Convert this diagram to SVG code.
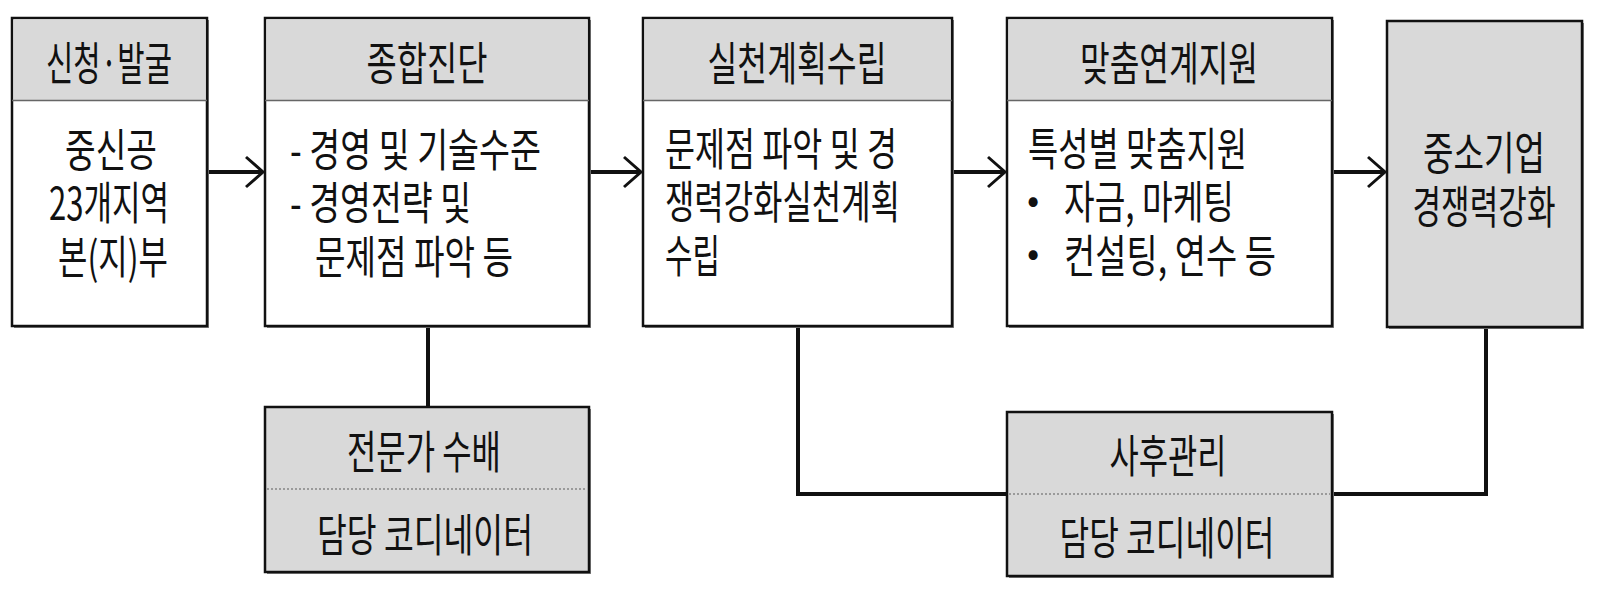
<svg xmlns="http://www.w3.org/2000/svg" width="1597" height="593" viewBox="0 0 1597 593">
<defs>
<style>
.sh{fill:#808080;stroke:none}
.box{fill:#ffffff;stroke:#111;stroke-width:2.5}
.gbox{fill:#d9d9d9;stroke:#111;stroke-width:2.5}
.hdr{fill:#d9d9d9;stroke:none}
.sep{stroke:#666;stroke-width:1.5}
.dot{stroke:#9a9a9a;stroke-width:2;stroke-dasharray:2,2}
.t{font-family:"Noto Sans CJK KR","Noto Sans",sans-serif;font-size:45px;fill:#111}
.h{font-family:"Noto Sans CJK KR","Noto Sans",sans-serif;font-size:46px;fill:#111}
.b{font-family:"Noto Sans CJK KR","Noto Sans",sans-serif;font-size:36px;fill:#111;text-anchor:middle}
.c{text-anchor:middle}
.ln{fill:none;stroke:#111;stroke-width:4}
</style>
<marker id="arr" markerWidth="22" markerHeight="34" refX="19" refY="17" orient="auto" markerUnits="userSpaceOnUse">
<path d="M2,2 L19,17 L2,32" fill="none" stroke="#111" stroke-width="3"/>
</marker>
</defs>
<rect width="1597" height="593" fill="#ffffff"/>

<g id="connectors">
<line class="ln" x1="207" y1="172" x2="263" y2="172" marker-end="url(#arr)"/>
<line class="ln" x1="589" y1="172" x2="641" y2="172" marker-end="url(#arr)"/>
<line class="ln" x1="952" y1="172" x2="1005" y2="172" marker-end="url(#arr)"/>
<line class="ln" x1="1332" y1="172" x2="1385" y2="172" marker-end="url(#arr)" stroke="#333"/>
<line class="ln" x1="428" y1="326" x2="428" y2="407"/>
<polyline class="ln" points="798,326 798,494 1007,494"/>
<polyline class="ln" points="1486,327 1486,494 1332,494"/>
</g>

<g id="node-apply">
<rect class="sh" x="14" y="20" width="195" height="308"/>
<rect class="box" x="12" y="18" width="195" height="308"/>
<rect class="hdr" x="13.5" y="19.5" width="192" height="81"/>
<line class="sep" x1="12" y1="100.5" x2="207" y2="100.5"/>
<text class="h c" x="109" y="80" textLength="126" lengthAdjust="spacingAndGlyphs">신청·발굴</text>
<text class="t c" x="111" y="167" textLength="92" lengthAdjust="spacingAndGlyphs">중신공</text>
<text class="t c" x="109" y="220" textLength="120" lengthAdjust="spacingAndGlyphs">23개지역</text>
<text class="t c" x="113" y="274" textLength="110" lengthAdjust="spacingAndGlyphs">본(지)부</text>
</g>

<g id="node-diagnosis">
<rect class="sh" x="267" y="20" width="324" height="308"/>
<rect class="box" x="265" y="18" width="324" height="308"/>
<rect class="hdr" x="266.5" y="19.5" width="321" height="81"/>
<line class="sep" x1="265" y1="100.5" x2="589" y2="100.5"/>
<text class="h c" x="427" y="80" textLength="121" lengthAdjust="spacingAndGlyphs">종합진단</text>
<text class="t" x="290" y="167" textLength="251" lengthAdjust="spacingAndGlyphs">- 경영 및 기술수준</text>
<text class="t" x="290" y="220" textLength="181" lengthAdjust="spacingAndGlyphs">- 경영전략 및</text>
<text class="t" x="315" y="274" textLength="198" lengthAdjust="spacingAndGlyphs">문제점 파악 등</text>
</g>

<g id="node-plan">
<rect class="sh" x="645" y="20" width="309" height="308"/>
<rect class="box" x="643" y="18" width="309" height="308"/>
<rect class="hdr" x="644.5" y="19.5" width="306" height="81"/>
<line class="sep" x1="643" y1="100.5" x2="952" y2="100.5"/>
<text class="h c" x="797" y="80" textLength="179" lengthAdjust="spacingAndGlyphs">실천계획수립</text>
<text class="t" x="665" y="166" textLength="232" lengthAdjust="spacingAndGlyphs">문제점 파악 및 경</text>
<text class="t" x="665" y="219" textLength="235" lengthAdjust="spacingAndGlyphs">쟁력강화실천계획</text>
<text class="t" x="665" y="273" textLength="55" lengthAdjust="spacingAndGlyphs">수립</text>
</g>

<g id="node-support">
<rect class="sh" x="1009" y="20" width="325" height="308"/>
<rect class="box" x="1007" y="18" width="325" height="308"/>
<rect class="hdr" x="1008.5" y="19.5" width="322" height="81"/>
<line class="sep" x1="1007" y1="100.5" x2="1332" y2="100.5"/>
<text class="h c" x="1169" y="80" textLength="178" lengthAdjust="spacingAndGlyphs">맞춤연계지원</text>
<text class="t" x="1028" y="166" textLength="219" lengthAdjust="spacingAndGlyphs">특성별 맞춤지원</text>
<text class="b" x="1033" y="213">•</text>
<text class="t" x="1064" y="219" textLength="170" lengthAdjust="spacingAndGlyphs">자금, 마케팅</text>
<text class="b" x="1033" y="266">•</text>
<text class="t" x="1064" y="273" textLength="212" lengthAdjust="spacingAndGlyphs">컨설팅, 연수 등</text>
</g>

<g id="node-result">
<rect class="sh" x="1389" y="23" width="195" height="306"/>
<rect class="gbox" x="1387" y="21" width="195" height="306"/>
<text class="t c" x="1484" y="170" textLength="122" lengthAdjust="spacingAndGlyphs">중소기업</text>
<text class="t c" x="1484" y="224" textLength="143" lengthAdjust="spacingAndGlyphs">경쟁력강화</text>
</g>

<g id="node-expert">
<rect class="sh" x="267" y="409" width="324" height="165"/>
<rect class="gbox" x="265" y="407" width="324" height="165"/>
<line class="dot" x1="267" y1="489" x2="587" y2="489"/>
<text class="t c" x="424" y="469" textLength="154" lengthAdjust="spacingAndGlyphs">전문가 수배</text>
<text class="t c" x="425" y="552" textLength="216" lengthAdjust="spacingAndGlyphs">담당 코디네이터</text>
</g>

<g id="node-aftercare">
<rect class="sh" x="1009" y="414" width="325" height="164"/>
<rect class="gbox" x="1007" y="412" width="325" height="164"/>
<line class="dot" x1="1009" y1="494" x2="1330" y2="494"/>
<text class="t c" x="1168" y="473" textLength="117" lengthAdjust="spacingAndGlyphs">사후관리</text>
<text class="t c" x="1167" y="555" textLength="215" lengthAdjust="spacingAndGlyphs">담당 코디네이터</text>
</g>
</svg>
